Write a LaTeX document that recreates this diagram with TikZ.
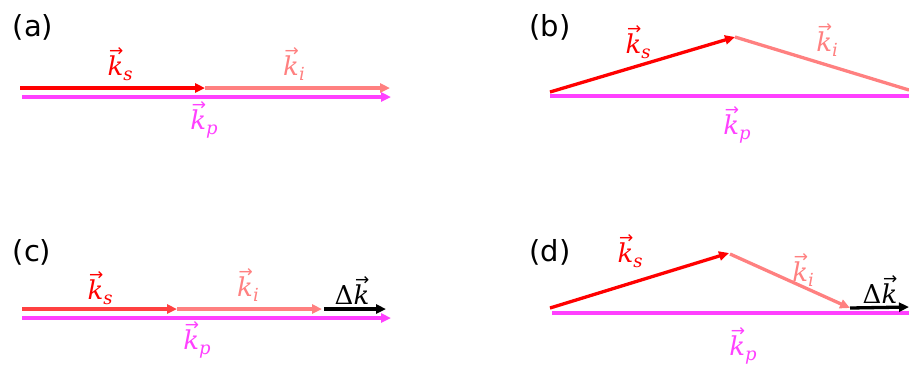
\documentclass[tikz,border=0pt]{standalone}
\usepackage{fontspec}
\setmainfont{DejaVu Sans}
\newfontfamily\kfont{DejaVu Serif}
\newfontfamily\arrfont{DejaVu Sans}
\usetikzlibrary{arrows.meta}
\definecolor{ksred}{RGB}{255,0,0}
\definecolor{kslight}{RGB}{255,64,64}
\definecolor{kicol}{RGB}{255,128,128}
\definecolor{kpcol}{RGB}{255,64,255}
\newcommand{\kvec}{\makebox[0pt][l]{\hspace{1.5pt}\raisebox{19pt}{\arrfont\fontsize{17}{17}\selectfont →}}{\kfont\itshape k}}
\newcommand{\ksub}[1]{\raisebox{-5.5pt}{\fontsize{18}{20}\selectfont\kfont\itshape #1}}
\tikzset{
  vecline/.style={line width=3.3pt},
  vecarrow/.style={vecline, -{Triangle[length=10pt,width=9pt]}},
  veclabel/.style={inner sep=0pt, font=\kfont\fontsize{26}{30}\selectfont},
  panellabel/.style={inner sep=0pt, font=\fontsize{29}{34}\selectfont}
}
\begin{document}
\begin{tikzpicture}[x=1pt,y=-1pt]
\useasboundingbox (0,0) rectangle (909,368);
% ---------- (a)
\node[panellabel] (la) at (33,27) {(a)};
\coordinate (a0) at (20,88);
\coordinate (a1) at (205,88);
\coordinate (a2) at (390,88);
\coordinate (ap0) at (22,97);
\coordinate (ap1) at (391,97);
\draw[vecarrow, ksred] (a0) -- (a1);
\draw[vecarrow, kicol] (a1) -- (a2);
\draw[vecarrow, kpcol] (ap0) -- (ap1);
\node[veclabel, text=ksred] (aks) at (120,64) {\kvec\ksub{s}};
\node[veclabel, text=kicol] (aki) at (294,64) {\kvec\ksub{i}};
\node[veclabel, text=kpcol] (akp) at (204,120) {\kvec\ksub{p}};
% ---------- (b)
\node[panellabel] (lb) at (550,27) {(b)};
\coordinate (b0) at (550,92);
\coordinate (b1) at (735,37);
\coordinate (b2) at (909,90);
\coordinate (bp0) at (550,96);
\coordinate (bp1) at (909,96);
\draw[vecarrow, ksred] (b0) -- (b1);
\draw[vecline, kicol] (b1) -- (b2);
\draw[vecline, kpcol] (bp0) -- (bp1);
\node[veclabel, text=ksred] (bks) at (638,42) {\kvec\ksub{s}};
\node[veclabel, text=kicol] (bki) at (827,40) {\kvec\ksub{i}};
\node[veclabel, text=kpcol] (bkp) at (737,125) {\kvec\ksub{p}};
% ---------- (c)
\node[panellabel] (lc) at (32,252) {(c)};
\coordinate (c0) at (22,309);
\coordinate (c1) at (177,309);
\coordinate (c2) at (322,309);
\coordinate (c3) at (386,309);
\coordinate (cp0) at (22,318);
\coordinate (cp1) at (391,318);
\draw[vecarrow, kpcol] (cp0) -- (cp1);
\draw[vecarrow, kslight] (c0) -- (c1);
\draw[vecarrow, kicol] (c1) -- (c2);
\draw[vecarrow, black] (c2) ++(2,0) coordinate (c2b) -- (c3);
\node[veclabel, text=ksred] (cks) at (100,288) {\kvec\ksub{s}};
\node[veclabel, text=kicol] (cki) at (248,285) {\kvec\ksub{i}};
\node[veclabel, text=black] (cdk) at (352,291) {Δ\kvec};
\node[veclabel, text=kpcol] (ckp) at (197,340) {\kvec\ksub{p}};
% ---------- (d)
\node[panellabel] (ld) at (550,252) {(d)};
\coordinate (d0) at (550,308);
\coordinate (d1) at (729,253);
\coordinate (d2) at (850,308);
\coordinate (d3) at (909,307);
\coordinate (dp0) at (552,313);
\coordinate (dp1) at (909,313);
\draw[vecline, kpcol] (dp0) -- (dp1);
\draw[vecarrow, ksred] (d0) -- (d1);
\draw[vecarrow, kicol] (d1) ++(1,1) coordinate (d1b) -- (d2);
\draw[vecarrow, black] (d2) -- (d3);
\node[veclabel, text=ksred] (dks) at (630,251) {\kvec\ksub{s}};
\node[veclabel, text=kicol] (dki) at (803,270) {\kvec\ksub{i}};
\node[veclabel, text=black] (ddk) at (880,290) {Δ\kvec};
\node[veclabel, text=kpcol] (dkp) at (743,346) {\kvec\ksub{p}};
\end{tikzpicture}
\end{document}
